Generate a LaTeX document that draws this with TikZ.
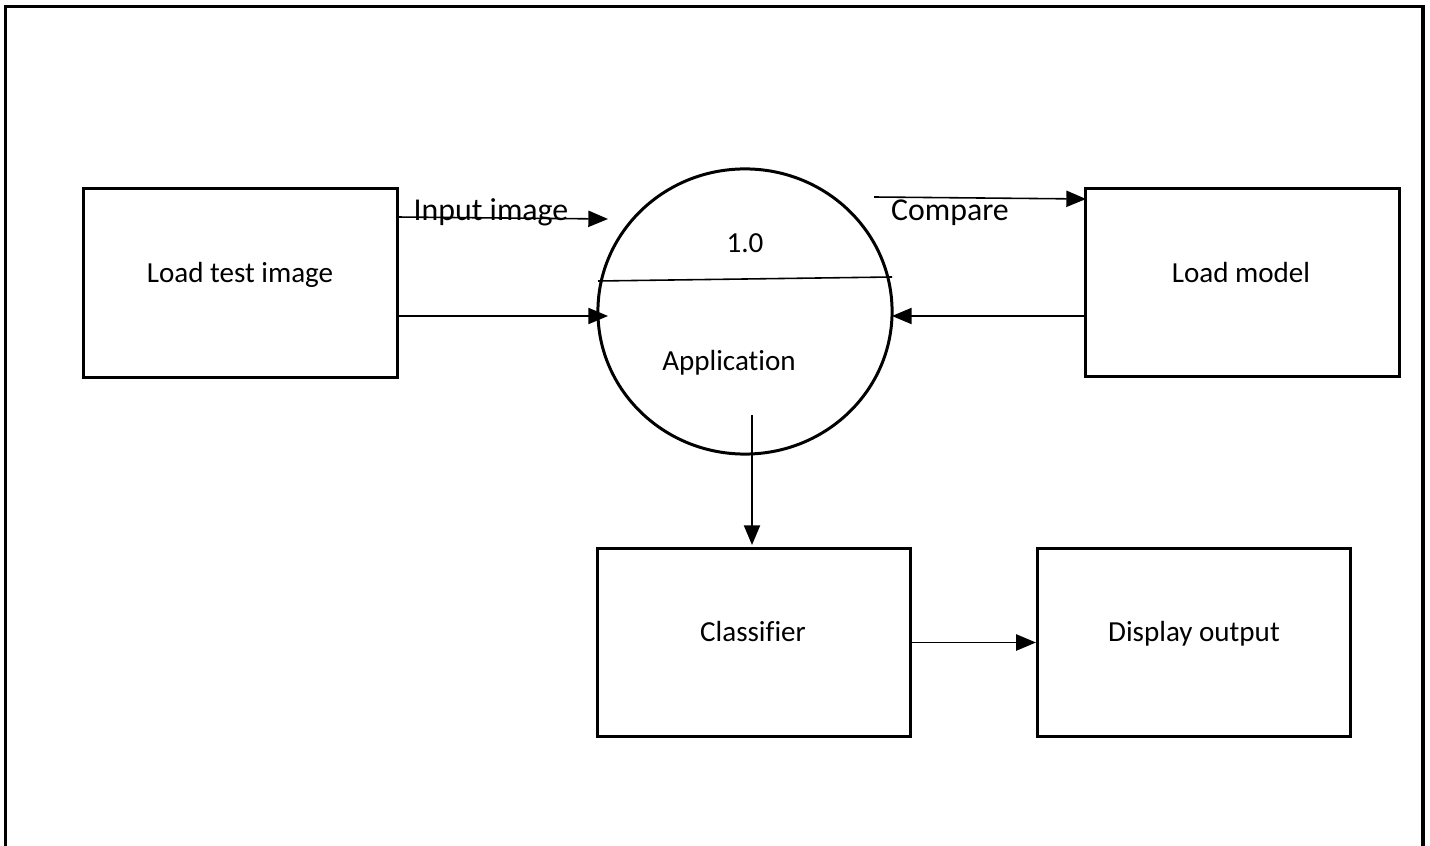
\documentclass[tikz,border=0pt]{standalone}
\usepackage{fontspec}
\setmainfont{Carlito}[Ligatures={NoCommon}]
\usetikzlibrary{arrows.meta,shapes.geometric}
\begin{document}
\begin{tikzpicture}[x=0.01cm,y=-0.01cm,
  box/.style={draw,line width=0.85pt,minimum width=3.13cm,minimum height=1.88cm,inner sep=0pt},
  proc/.style={draw,ellipse,line width=0.85pt,minimum width=2.94cm,minimum height=2.85cm,inner sep=0pt},
  txt/.style={font=\fontsize{8.27}{9}\selectfont,anchor=base,inner sep=0pt},
  lbl/.style={font=\fontsize{9.05}{10}\selectfont,anchor=base,inner sep=0pt},
  arr/.style={line width=0.45pt,-{Triangle[length=5.6pt,width=4.6pt]}}]
\useasboundingbox (0,0) rectangle (1430,846);
% outer frame
\draw[line width=1pt] (5.5,848) -- (5.5,6.5) -- (1423,6.5) -- (1423,848);

% stores and processes
\node[box] (load) at (240.5,283) {};
\node[box] (model) at (1242.5,282.5) {};
\node[box] (cls) at (754,642.5) {};
\node[box] (disp) at (1194,642.5) {};
\node[proc] (app) at (745,311.5) {};

% texts
\node[txt] (tload) at (240,283) {Load test image};
\node[txt] (tmodel) at (1241,283) {Load model};
\node[txt] (tcls) at (753,642) {Classifier};
\node[txt] (tdisp) at (1194,642) {Display output};
\node[txt] (tnum) at (745,253) {1.0};
\node[txt] (tapp) at (729,371) {Application};

% divider inside the process circle
\coordinate (dl) at (598,281);
\coordinate (dr) at (892,277);
\draw[line width=0.45pt] (dl) -- (dr);

% flows
\coordinate (a1s) at (397,217);
\coordinate (a1e) at (608,219);
\draw[arr] (a1s) -- (a1e);
\node[lbl] (tin) at (491,221) {Input image};

\coordinate (a2s) at (397,316);
\coordinate (a2e) at (608,316);
\draw[arr] (a2s) -- (a2e);

\coordinate (a3s) at (874,197);
\coordinate (a3e) at (1086,199);
\draw[arr] (a3s) -- (a3e);
\node[lbl] (tcmp) at (950,221) {Compare};

\coordinate (a4s) at (1086,316);
\coordinate (a4e) at (892,316);
\draw[arr] (a4s) -- (a4e);

\coordinate (a5s) at (752,415);
\coordinate (a5e) at (752,545);
\draw[arr] (a5s) -- (a5e);

\draw[arr] (cls.east) -- (disp.west);
\end{tikzpicture}
\end{document}
